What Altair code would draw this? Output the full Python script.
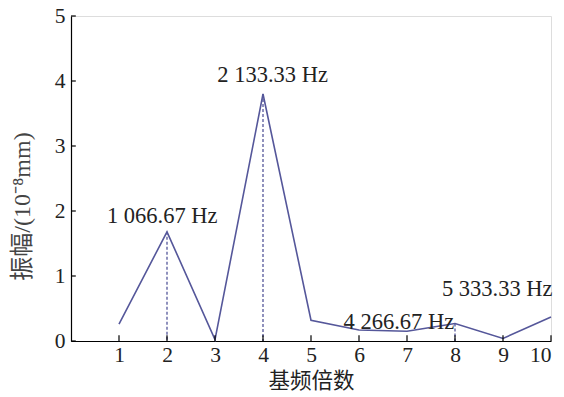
import altair as alt
import pandas as pd

harmonics = [1, 2, 3, 4, 5, 6, 7, 8, 9, 10]
amplitude = [0.26, 1.68, 0.02, 3.80, 0.32, 0.17, 0.15, 0.27, 0.04, 0.37]

marked = [2, 4, 8]
ann_text = ["1 066.67 Hz", "2 133.33 Hz", "4 266.67 Hz", "5 333.33 Hz"]
ann_x = [1.9, 4.2, 6.83, 8.88]
ann_y = [1.92, 4.09, 0.29, 0.80]

x_ticks = [1, 2, 3, 4, 5, 6, 7, 8, 9, 10]
y_ticks = [0, 1, 2, 3, 4, 5]

FONT = "Liberation Serif, Times New Roman, Noto Sans CJK SC"
LINE = "#55579a"

df = pd.DataFrame({"h": harmonics, "a": amplitude})
dm = df[df["h"].isin(marked)]
ann = pd.DataFrame({"t": ann_text, "x": ann_x, "y": ann_y})
xt = pd.DataFrame({"v": x_ticks})
yt = pd.DataFrame({"v": y_ticks})

xs = alt.Scale(domain=[0, 10], nice=False)
ys = alt.Scale(domain=[0, 5], nice=False)

xaxis = alt.Axis(values=x_ticks, format="d", title="基频倍数", grid=False, ticks=False,
                 labelFont=FONT, labelFontSize=21.5, labelColor="#222",
                 labelPadding=3, titleFont=FONT, titleFontSize=21.5,
                 titleFontWeight="normal", titleColor="#222", titlePadding=5,
                 domainColor="#000", domainWidth=1.2)
yaxis = alt.Axis(values=y_ticks, format="d", title="振幅/(10⁻⁸mm)", grid=False, ticks=False,
                 labelFont=FONT, labelFontSize=21.5, labelColor="#222",
                 labelPadding=6, titleFont=FONT, titleFontSize=24,
                 titleFontWeight="normal", titleColor="#444", titlePadding=20,
                 titleY=190,
                 domainColor="#000", domainWidth=1.2)

line = alt.Chart(df).mark_line(color=LINE, strokeWidth=1.6).encode(
    x=alt.X("h:Q", scale=xs, axis=xaxis),
    y=alt.Y("a:Q", scale=ys, axis=yaxis),
)

drops = alt.Chart(dm).mark_rule(color=LINE, strokeWidth=1.3, strokeDash=[3, 2]).encode(
    x="h:Q", y="a:Q", y2=alt.datum(0)
)

xtick = alt.Chart(xt).mark_rule(color="#000", strokeWidth=1.2).encode(
    x="v:Q", y=alt.datum(0), y2=alt.datum(0.09)
)
ytick = alt.Chart(yt).mark_rule(color="#000", strokeWidth=1.2).encode(
    y="v:Q", x=alt.datum(0), x2=alt.datum(0.1)
)

labels = alt.Chart(ann).mark_text(font=FONT, fontSize=22.5, color="#222",
                                  baseline="middle", align="center").encode(
    x="x:Q", y="y:Q", text="t:N"
)

chart = alt.layer(line, drops, xtick, ytick, labels).properties(
    width=480, height=325,
    autosize=alt.AutoSizeParams(type="none"),
    padding={"left": 71, "top": 16, "right": 13, "bottom": 56},
).configure_view(stroke=None).configure(background="white")

chart.save("out.html", embed_options={"renderer": "svg", "actions": False})
